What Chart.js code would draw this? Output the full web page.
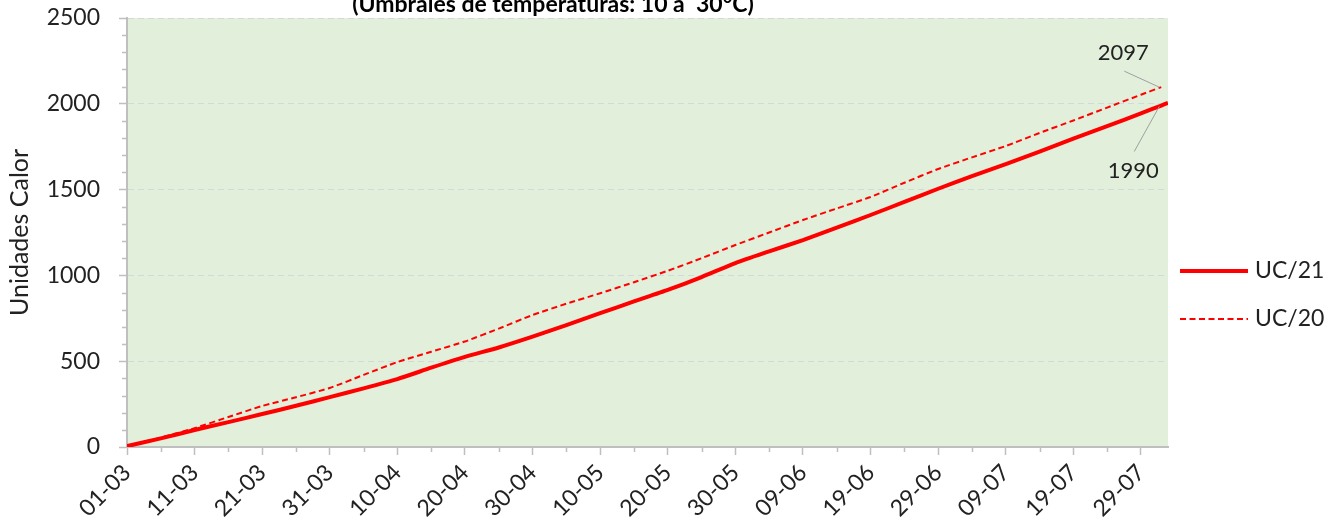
<!DOCTYPE html>
<html><head><meta charset="utf-8">
<script src="https://cdn.jsdelivr.net/npm/chart.js@4"></script>
<style>html,body{margin:0;padding:0;background:#fff;}#wrap{width:1335px;height:522px;}</style>
</head><body><div id="wrap"><canvas id="c" width="1335" height="522"></canvas></div>
<script>
// Day index counted from 01-03
const daysUC21 = [0,5,10,15,20,25,30,35,40,45,50,55,60,65,70,75,80,85,90,95,100,105,110,115,120,125,130,135,140,145,150,153,154];
const uc21 = [5,50,99,145,192,240,291,342,396,462,525,580,643,710,780,848,915,990,1072,1140,1206,1278,1352,1428,1505,1578,1649,1722,1797,1870,1944,1990,2005];
const daysUC20 = [0,5,10,15,20,25,30,35,40,45,50,55,60,65,70,75,80,85,90,95,100,105,110,115,120,125,130,135,140,145,150,153];
const uc20 = [5,55,110,175,239,290,344,420,495,555,615,690,769,835,896,960,1027,1100,1177,1250,1323,1390,1457,1540,1620,1688,1754,1830,1903,1978,2053,2097];
const tickLabels = ['01-03','11-03','21-03','31-03','10-04','20-04','30-04','10-05','20-05','30-05','09-06','19-06','29-06','09-07','19-07','29-07'];
const seriesNames = ['UC/21','UC/20'];
const endPoints = [{day:153, value:1990, text:'1990'},{day:153, value:2097, text:'2097'}];
const titleText = '(Umbrales de temperaturas: 10 a  30°C)';
const yTitle = 'Unidades Calor';

const FONT = 'Lato';
const TXT = '#222222';
const AXIS = '#BFBFBF';

const decor = {
  id: 'decor',
  beforeDraw(chart) {
    const {ctx, chartArea: a} = chart;
    ctx.save();
    ctx.fillStyle = '#E2EFDA';
    ctx.fillRect(a.left, a.top, a.right - a.left, a.bottom - a.top);
    ctx.restore();
  },
  afterDraw(chart) {
    const {ctx, chartArea: a} = chart;
    const xs = chart.scales.x, ys = chart.scales.y;
    ctx.save();
    // minor ticks
    ctx.strokeStyle = AXIS; ctx.lineWidth = 1.5;
    for (let v = 100; v < 2500; v += 100) {
      if (v % 500 === 0) continue;
      const y = Math.round(ys.getPixelForValue(v)) + 0.5;
      ctx.beginPath(); ctx.moveTo(a.left - 5, y); ctx.lineTo(a.left, y); ctx.stroke();
    }
    for (let d = 5; d < 154; d += 10) {
      const x = Math.round(xs.getPixelForValue(d)) + 0.5;
      ctx.beginPath(); ctx.moveTo(x, a.bottom); ctx.lineTo(x, a.bottom + 5); ctx.stroke();
    }
    // annotations
    ctx.strokeStyle = '#A0A0A0'; ctx.lineWidth = 1;
    ctx.fillStyle = TXT; ctx.font = '22px ' + FONT;
    ctx.textAlign = 'center'; ctx.textBaseline = 'middle';
    const e21 = endPoints[0], e20 = endPoints[1];
    let px = xs.getPixelForValue(e21.day), py = ys.getPixelForValue(e21.value);
    ctx.beginPath(); ctx.moveTo(px - 2, py + 1); ctx.lineTo(px - 27, py + 46); ctx.stroke();
    ctx.fillText(e21.text, px - 28, py + 65);
    px = xs.getPixelForValue(e20.day); py = ys.getPixelForValue(e20.value);
    ctx.beginPath(); ctx.moveTo(px - 2, py); ctx.lineTo(px - 37, py - 16); ctx.stroke();
    ctx.fillText(e20.text, px - 38, py - 34);
    // legend
    const lx = a.right + 12, ly = [271, 319];
    chart.data.datasets.forEach((ds, i) => {
      ctx.strokeStyle = ds.borderColor; ctx.lineWidth = ds.borderWidth;
      ctx.setLineDash(ds.borderDash || []);
      ctx.beginPath(); ctx.moveTo(lx, ly[i]); ctx.lineTo(lx + 68, ly[i]); ctx.stroke();
      ctx.setLineDash([]);
      ctx.fillStyle = TXT; ctx.textAlign = 'left'; ctx.textBaseline = 'middle';
      ctx.font = '23px ' + FONT;
      ctx.fillText(ds.label, lx + 75, ly[i]);
    });
    // title (partly cut off at the top)
    ctx.font = 'bold 23px ' + FONT;
    ctx.textAlign = 'center'; ctx.textBaseline = 'alphabetic';
    ctx.fillStyle = '#000';
    ctx.fillText(titleText, 553, 12);
    ctx.restore();
  }
};

new Chart(document.getElementById('c'), {
  type: 'line',
  data: {
    datasets: [
      {label: seriesNames[0], data: daysUC21.map((d, i) => ({x: d, y: uc21[i]})),
       borderColor: '#FF0000', borderWidth: 4, pointRadius: 0, tension: 0.2},
      {label: seriesNames[1], data: daysUC20.map((d, i) => ({x: d, y: uc20[i]})),
       borderColor: '#FF0000', borderWidth: 2, borderDash: [6, 3.5], pointRadius: 0, tension: 0.2}
    ]
  },
  options: {
    responsive: false, animation: false, devicePixelRatio: 1,
    layout: {padding: {top: 18, right: 167, left: 0, bottom: 0}},
    plugins: {legend: {display: false}, tooltip: {enabled: false}},
    scales: {
      x: {
        type: 'linear', min: 0, max: 154,
        afterFit: s => { s.height = 75; },
        grid: {drawOnChartArea: false, drawTicks: true, tickLength: 8, tickColor: AXIS, tickWidth: 1.5},
        border: {color: AXIS, width: 2},
        ticks: {stepSize: 10, includeBounds: false, autoSkip: false, maxRotation: 45, minRotation: 45,
          padding: 4, color: TXT, font: {family: FONT, size: 23},
          callback: v => tickLabels[Math.round(v / 10)] || ''}
      },
      y: {
        min: 0, max: 2500,
        afterFit: s => { s.width = 127; s.paddingTop = 0; s.paddingBottom = 0; },
        grid: {color: '#D3D8DC', lineWidth: 1, tickLength: 8, tickColor: AXIS, tickWidth: 1.5},
        border: {color: AXIS, width: 2, dash: [6, 4]},
        ticks: {stepSize: 500, padding: 19, color: TXT, font: {family: FONT, size: 23},
          callback: v => String(v)},
        title: {display: true, text: yTitle, color: TXT, font: {family: FONT, size: 25}, padding: {top: 5, bottom: 0}}
      }
    }
  },
  plugins: [decor]
});
</script></body></html>
